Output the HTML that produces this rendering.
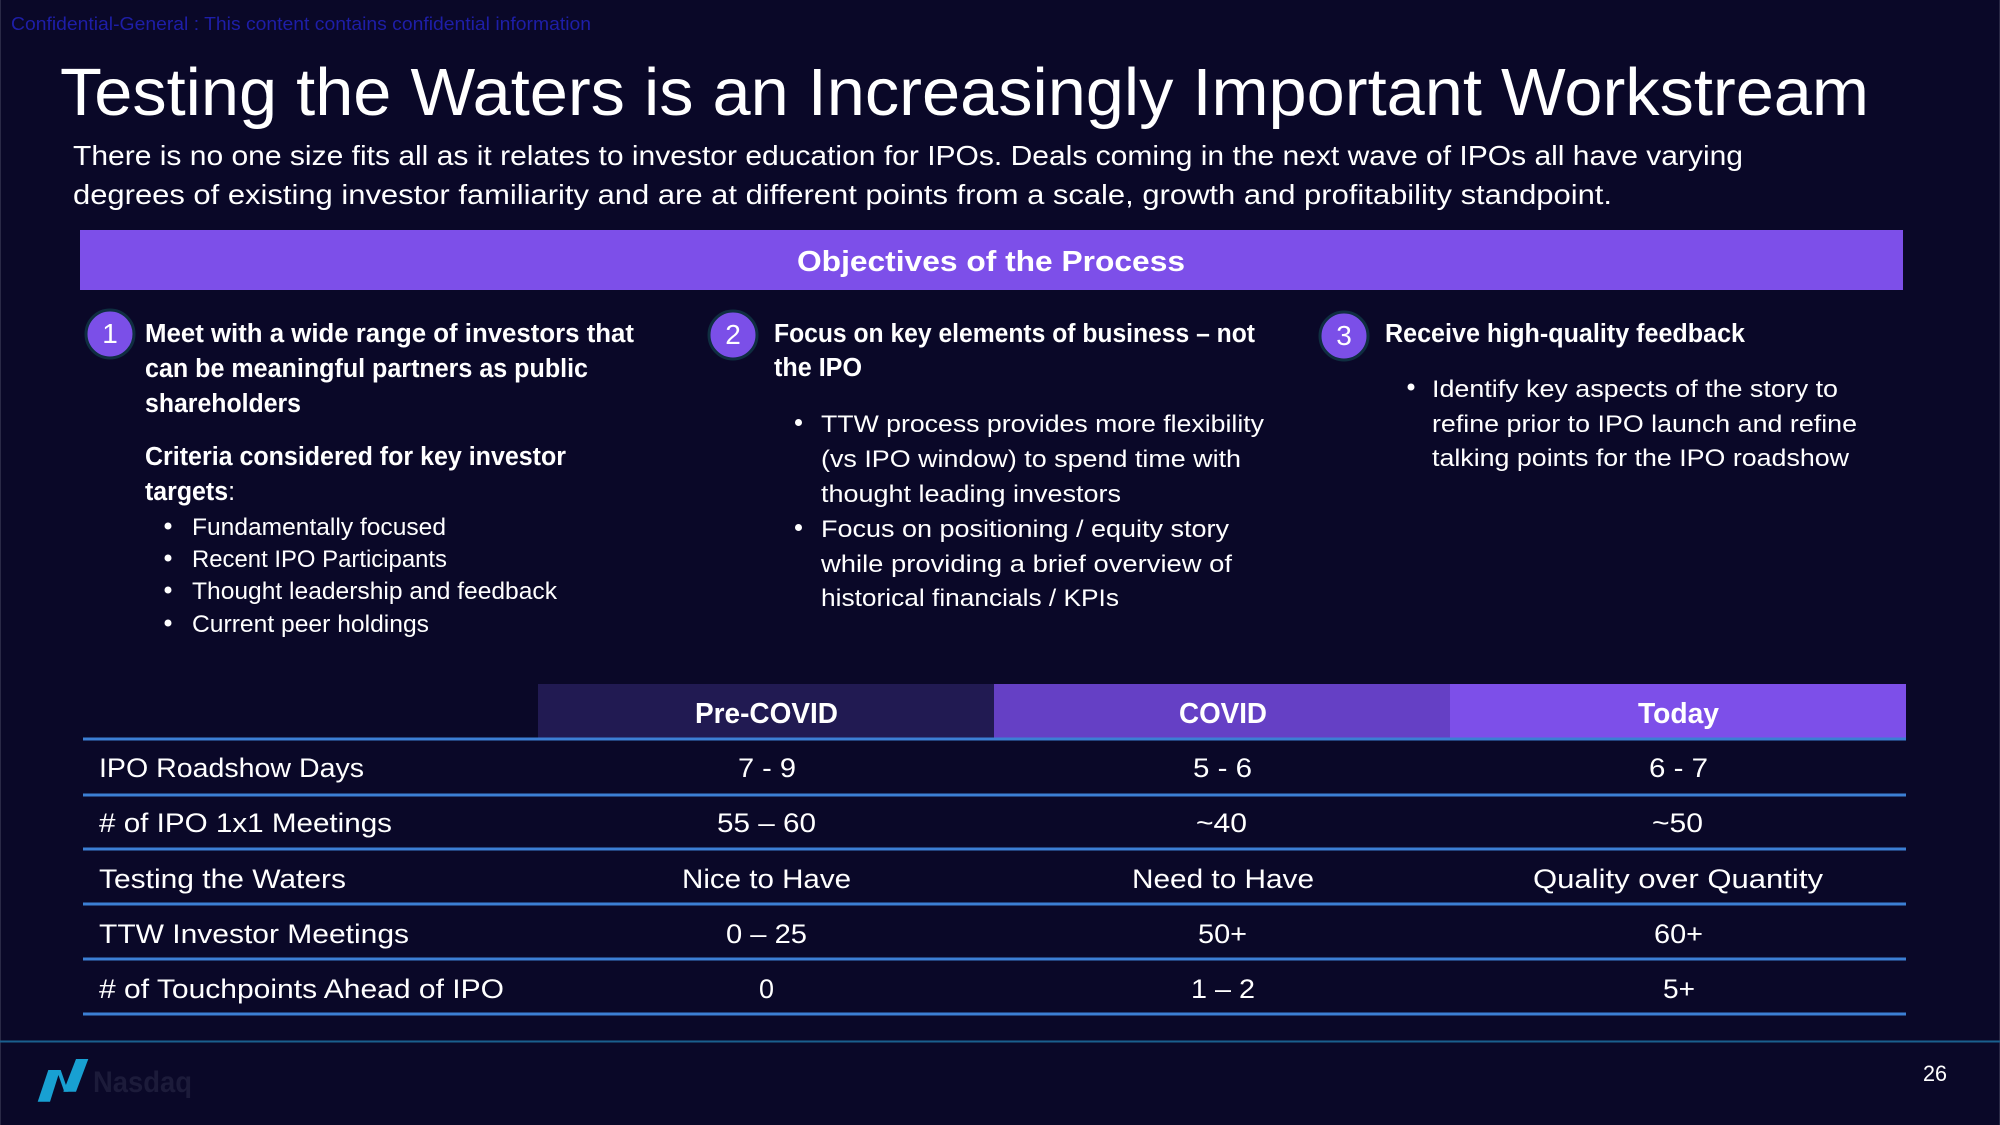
<!DOCTYPE html>
<html>
<head>
<meta charset="utf-8">
<style>
html,body{margin:0;padding:0;background:#0a0828;}
svg{display:block;}
text{font-family:"Liberation Sans",Arial,sans-serif;fill:#ffffff;}
.b{font-weight:bold;}
</style>
</head>
<body>
<svg width="2000" height="1125" viewBox="0 0 2000 1125" xmlns="http://www.w3.org/2000/svg">
<rect x="0" y="0" width="2000" height="1125" fill="#0a0828"/>
<line x1="0.5" y1="0" x2="0.5" y2="1125" stroke="#2a2946" stroke-width="1"/>
<line x1="1999.5" y1="0" x2="1999.5" y2="1125" stroke="#2a2946" stroke-width="1"/>

<!-- confidential -->
<text x="11" y="30" font-size="18" style="fill:#1e1ea8" textLength="580" lengthAdjust="spacingAndGlyphs">Confidential-General : This content contains confidential information</text>

<!-- title -->
<text x="60" y="115" font-size="67" textLength="1809" lengthAdjust="spacingAndGlyphs">Testing the Waters is an Increasingly Important Workstream</text>

<!-- subtitle -->
<text x="73" y="165" font-size="28" textLength="1670" lengthAdjust="spacingAndGlyphs">There is no one size fits all as it relates to investor education for IPOs. Deals coming in the next wave of IPOs all have varying</text>
<text x="73" y="204" font-size="28" textLength="1539" lengthAdjust="spacingAndGlyphs">degrees of existing investor familiarity and are at different points from a scale, growth and profitability standpoint.</text>

<!-- objectives bar -->
<rect x="80" y="230" width="1823" height="60" fill="#7d4fe9"/>
<text class="b" x="797" y="271" font-size="29" textLength="388" lengthAdjust="spacingAndGlyphs">Objectives of the Process</text>

<!-- circles -->
<circle cx="110" cy="334" r="24" fill="#7b4fe8" stroke="#0f2e40" stroke-width="3"/>
<text x="110" y="343" font-size="28" text-anchor="middle">1</text>
<circle cx="733" cy="335" r="24" fill="#7b4fe8" stroke="#0f2e40" stroke-width="3"/>
<text x="733" y="344" font-size="28" text-anchor="middle">2</text>
<circle cx="1344" cy="336" r="24" fill="#7b4fe8" stroke="#0f2e40" stroke-width="3"/>
<text x="1344" y="345" font-size="28" text-anchor="middle">3</text>

<!-- section 1 -->
<text class="b" x="145" y="342" font-size="25.5" textLength="489" lengthAdjust="spacingAndGlyphs">Meet with a wide range of investors that</text>
<text class="b" x="145" y="377" font-size="25.5" textLength="443" lengthAdjust="spacingAndGlyphs">can be meaningful partners as public</text>
<text class="b" x="145" y="412" font-size="25.5" textLength="156" lengthAdjust="spacingAndGlyphs">shareholders</text>
<text class="b" x="145" y="465" font-size="25.5" textLength="421" lengthAdjust="spacingAndGlyphs">Criteria considered for key investor</text>
<text x="145" y="500" font-size="25.5" textLength="90" lengthAdjust="spacingAndGlyphs"><tspan class="b">targets</tspan>:</text>

<circle cx="168" cy="526" r="3.5" fill="#fff"/>
<text x="192" y="535" font-size="24.5" textLength="254" lengthAdjust="spacingAndGlyphs">Fundamentally focused</text>
<circle cx="168" cy="558" r="3.5" fill="#fff"/>
<text x="192" y="567" font-size="24.5" textLength="255" lengthAdjust="spacingAndGlyphs">Recent IPO Participants</text>
<circle cx="168" cy="590" r="3.5" fill="#fff"/>
<text x="192" y="599" font-size="24.5" textLength="365" lengthAdjust="spacingAndGlyphs">Thought leadership and feedback</text>
<circle cx="168" cy="623" r="3.5" fill="#fff"/>
<text x="192" y="632" font-size="24.5" textLength="237" lengthAdjust="spacingAndGlyphs">Current peer holdings</text>

<!-- section 2 -->
<text class="b" x="774" y="342" font-size="25.5" textLength="481" lengthAdjust="spacingAndGlyphs">Focus on key elements of business – not</text>
<text class="b" x="774" y="376" font-size="25.5" textLength="88" lengthAdjust="spacingAndGlyphs">the IPO</text>

<circle cx="798.5" cy="422.5" r="3.5" fill="#fff"/>
<text x="821" y="432" font-size="24.5" textLength="443" lengthAdjust="spacingAndGlyphs">TTW process provides more flexibility</text>
<text x="821" y="467" font-size="24.5" textLength="420" lengthAdjust="spacingAndGlyphs">(vs IPO window) to spend time with</text>
<text x="821" y="502" font-size="24.5" textLength="300" lengthAdjust="spacingAndGlyphs">thought leading investors</text>
<circle cx="798.5" cy="527.5" r="3.5" fill="#fff"/>
<text x="821" y="537" font-size="24.5" textLength="408" lengthAdjust="spacingAndGlyphs">Focus on positioning / equity story</text>
<text x="821" y="572" font-size="24.5" textLength="411" lengthAdjust="spacingAndGlyphs">while providing a brief overview of</text>
<text x="821" y="606" font-size="24.5" textLength="298" lengthAdjust="spacingAndGlyphs">historical financials / KPIs</text>

<!-- section 3 -->
<text class="b" x="1385" y="342" font-size="25.5" textLength="360" lengthAdjust="spacingAndGlyphs">Receive high-quality feedback</text>
<circle cx="1411" cy="387" r="3.5" fill="#fff"/>
<text x="1432" y="397" font-size="24.5" textLength="406" lengthAdjust="spacingAndGlyphs">Identify key aspects of the story to</text>
<text x="1432" y="432" font-size="24.5" textLength="425" lengthAdjust="spacingAndGlyphs">refine prior to IPO launch and refine</text>
<text x="1432" y="466" font-size="24.5" textLength="417" lengthAdjust="spacingAndGlyphs">talking points for the IPO roadshow</text>

<!-- table header -->
<rect x="538" y="684" width="456" height="55" fill="#211a52"/>
<rect x="994" y="684" width="456" height="55" fill="#6540c5"/>
<rect x="1450" y="684" width="456" height="55" fill="#7d4fe9"/>
<text class="b" x="695" y="723" font-size="29" textLength="143" lengthAdjust="spacingAndGlyphs">Pre-COVID</text>
<text class="b" x="1179" y="723" font-size="29" textLength="88" lengthAdjust="spacingAndGlyphs">COVID</text>
<text class="b" x="1638" y="723" font-size="29" textLength="81" lengthAdjust="spacingAndGlyphs">Today</text>

<!-- table lines -->
<g stroke="#3c7fd4" stroke-width="3">
<line x1="83" y1="739" x2="1906" y2="739"/>
<line x1="83" y1="795" x2="1906" y2="795"/>
<line x1="83" y1="849" x2="1906" y2="849"/>
<line x1="83" y1="904" x2="1906" y2="904"/>
<line x1="83" y1="959" x2="1906" y2="959"/>
<line x1="83" y1="1014" x2="1906" y2="1014"/>
</g>

<!-- row labels -->
<text x="99" y="777" font-size="26.5" textLength="265" lengthAdjust="spacingAndGlyphs">IPO Roadshow Days</text>
<text x="99" y="832" font-size="26.5" textLength="293" lengthAdjust="spacingAndGlyphs"># of IPO 1x1 Meetings</text>
<text x="99" y="888" font-size="26.5" textLength="247" lengthAdjust="spacingAndGlyphs">Testing the Waters</text>
<text x="99" y="943" font-size="26.5" textLength="310" lengthAdjust="spacingAndGlyphs">TTW Investor Meetings</text>
<text x="99" y="998" font-size="26.5" textLength="405" lengthAdjust="spacingAndGlyphs"># of Touchpoints Ahead of IPO</text>

<!-- values -->
<text x="738" y="777" font-size="26.5" textLength="58" lengthAdjust="spacingAndGlyphs">7 - 9</text>
<text x="1193" y="777" font-size="26.5" textLength="59" lengthAdjust="spacingAndGlyphs">5 - 6</text>
<text x="1649" y="777" font-size="26.5" textLength="59" lengthAdjust="spacingAndGlyphs">6 - 7</text>

<text x="717" y="832" font-size="26.5" textLength="99" lengthAdjust="spacingAndGlyphs">55 – 60</text>
<text x="1196" y="832" font-size="26.5" textLength="51" lengthAdjust="spacingAndGlyphs">~40</text>
<text x="1652" y="832" font-size="26.5" textLength="51" lengthAdjust="spacingAndGlyphs">~50</text>

<text x="682" y="888" font-size="26.5" textLength="169" lengthAdjust="spacingAndGlyphs">Nice to Have</text>
<text x="1132" y="888" font-size="26.5" textLength="182" lengthAdjust="spacingAndGlyphs">Need to Have</text>
<text x="1533" y="888" font-size="26.5" textLength="290" lengthAdjust="spacingAndGlyphs">Quality over Quantity</text>

<text x="726" y="943" font-size="26.5" textLength="81" lengthAdjust="spacingAndGlyphs">0 – 25</text>
<text x="1198" y="943" font-size="26.5" textLength="49" lengthAdjust="spacingAndGlyphs">50+</text>
<text x="1654" y="943" font-size="26.5" textLength="49" lengthAdjust="spacingAndGlyphs">60+</text>

<text x="759" y="998" font-size="26.5" textLength="15" lengthAdjust="spacingAndGlyphs">0</text>
<text x="1191" y="998" font-size="26.5" textLength="64" lengthAdjust="spacingAndGlyphs">1 – 2</text>
<text x="1663" y="998" font-size="26.5" textLength="32" lengthAdjust="spacingAndGlyphs">5+</text>

<!-- footer -->
<line x1="0" y1="1041.5" x2="2000" y2="1041.5" stroke="#1a5f8e" stroke-width="2"/>
<g fill="#18a0d2">
<polygon points="48.3,1070 60,1070 50,1101.7 37.7,1101.7"/>
<polygon points="56.7,1070 60.7,1070 68.3,1091.7 64.3,1091.7"/>
<polygon points="76,1059 88.3,1059 76,1091.7 63.3,1091.7"/>
</g>
<text class="b" x="93" y="1092" font-size="30" style="fill:#1c1b3a" textLength="99" lengthAdjust="spacingAndGlyphs">Nasdaq</text>
<text x="1923" y="1081" font-size="22" textLength="24" lengthAdjust="spacingAndGlyphs">26</text>
</svg>
</body>
</html>
